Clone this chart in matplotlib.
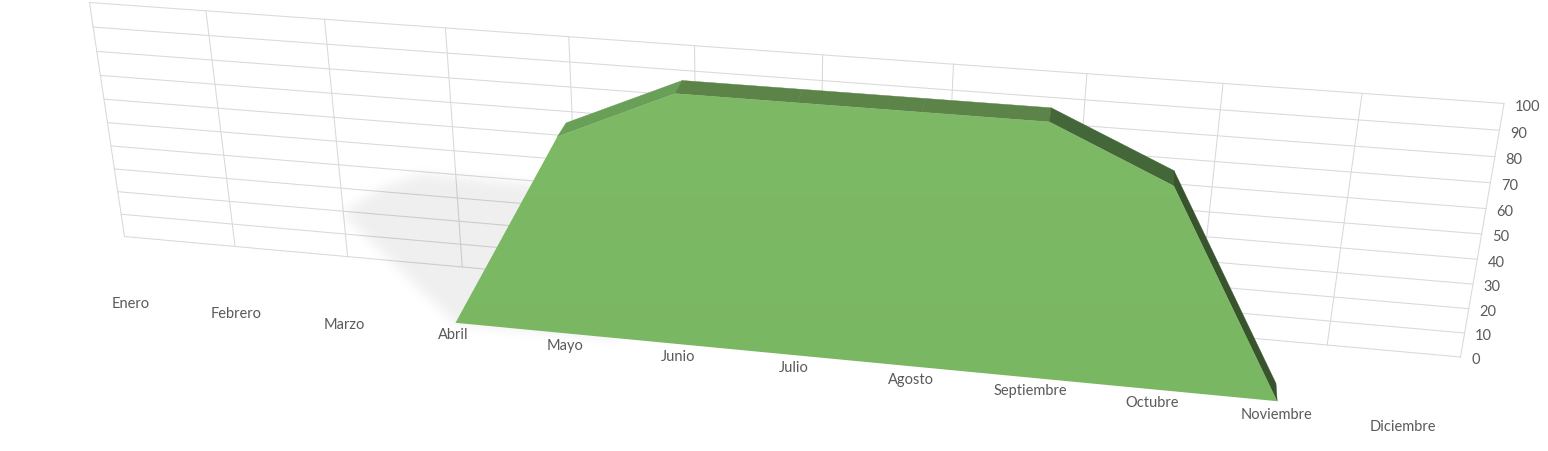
import numpy as np
import matplotlib
matplotlib.use('Agg')
from matplotlib import pyplot as plt
from matplotlib.path import Path
from matplotlib.patches import PathPatch
from matplotlib.transforms import Transform

# data
months = ['Enero', 'Febrero', 'Marzo', 'Abril', 'Mayo', 'Junio', 'Julio',
          'Agosto', 'Septiembre', 'Octubre', 'Noviembre', 'Diciembre']
values = [None, None, None, 0, 80, 100, 100, 100, 100, 80, 0, None]
y_ticks = [0, 10, 20, 30, 40, 50, 60, 70, 80, 90, 100]

# where the planes land on the canvas: (month index, value) -> pixel
WALL_CAL = [((0, 100), (89, 3)), ((0, 0), (124, 237)),
            ((11, 100), (1503.5, 104)), ((11, 0), (1460, 357.5))]
FRONT_CAL = [((3, 0), (455, 323.3)), ((10, 0), (1276.7, 401.7)),
             ((5, 100), (674.5, 94)), ((8, 100), (1049, 122.3))]
BACK_CAL = [((3, 0), (463, 306)), ((10, 0), (1275.5, 384)),
            ((5, 100), (681.7, 81)), ((8, 100), (1050.7, 108.3))]
# baselines of the month labels
LABEL_CAL = [((0, 0), (130.5, 309)), ((1, 0), (236.5, 319)), ((2, 0), (344, 329)),
             ((3, 0), (453, 339)), ((4, 0), (564, 350)), ((5, 0), (677, 361)),
             ((6, 0), (793, 372)), ((7, 0), (910, 383)), ((8, 0), (1030, 394)),
             ((9, 0), (1152, 406)), ((10, 0), (1277, 417.5)), ((11, 0), (1403, 430)),
             ((0, 100), (95, 60)), ((11, 100), (1440, 170))]

SHADOW = [(340, 214), (380, 188), (420, 174), (530, 185), (620, 200),
          (620, 340), (455, 325)]

GRID = '#d9d9d9'
TEXT = '#5a5a5a'
FACE_COLORS = {4: '#6a9f57', 5: '#5c8348', 6: '#5c8348', 7: '#5c8348',
               8: '#446739', 9: '#38542d'}


class Homography(Transform):
    input_dims = 2
    output_dims = 2

    def __init__(self, cal):
        super().__init__()
        # least squares DLT with h33 = 1
        a, b = [], []
        for (u, v), (x, y) in cal:
            a.append([u, v, 1, 0, 0, 0, -u * x, -v * x])
            a.append([0, 0, 0, u, v, 1, -u * y, -v * y])
            b += [x, y]
        h = np.linalg.lstsq(np.array(a, float), np.array(b, float), rcond=None)[0]
        self.h = np.append(h, 1).reshape(3, 3)

    def transform_non_affine(self, xy):
        xy = np.asarray(xy, float)
        p = np.column_stack([xy, np.ones(len(xy))]) @ self.h.T
        return p[:, :2] / p[:, 2:]


def set_canvas(ax):
    # pixel index -> pixel centre
    ax.set_xlim(-0.5, 1547.5)
    ax.set_ylim(451.5, -0.5)


fig = plt.figure(figsize=(15.48, 4.52), dpi=100)
ax = fig.add_axes([0, 0, 1, 1])
set_canvas(ax)
ax.axis('off')

wall = Homography(WALL_CAL)
front = Homography(FRONT_CAL)
back = Homography(BACK_CAL)
label_tf = Homography(LABEL_CAL)

# back wall grid
for i in range(len(months)):
    ax.plot([i, i], [0, 100], color=GRID, lw=0.75, transform=wall + ax.transData, zorder=1)
for t in y_ticks:
    ax.plot([0, 11], [t, t], color=GRID, lw=0.75, transform=wall + ax.transData, zorder=1)
    x, y = wall.transform([[11, t]])[0]
    ax.text(x + 10.5, y + 6.3, str(t), ha='left', va='baseline', color=TEXT,
            family='Lato', fontsize=10.5, zorder=5)

# soft shadow behind the area
yy, xx = np.mgrid[150:350, 310:640]
mask = Path(SHADOW).contains_points(np.column_stack([xx.ravel(), yy.ravel()])).reshape(xx.shape)
kernel = np.exp(-np.arange(-18, 19) ** 2 / (2 * 6.0 ** 2))
kernel /= kernel.sum()
soft = np.apply_along_axis(lambda r: np.convolve(r, kernel, mode='same'), 0, mask.astype(float))
soft = np.apply_along_axis(lambda r: np.convolve(r, kernel, mode='same'), 1, soft)
rgba = np.zeros(soft.shape + (4,))
rgba[..., 3] = soft * 0.065
ax.imshow(rgba, extent=(310, 640, 350, 150), zorder=2, aspect='auto')
set_canvas(ax)

# area: top faces first, then the front
idx = [i for i, v in enumerate(values) if v is not None]
pts = np.array([[i, values[i]] for i in idx], float)
p_front = front.transform(pts)
p_back = back.transform(pts)
for k in range(len(idx) - 1):
    col = FACE_COLORS.get(idx[k])
    if col is None:
        continue
    quad = np.array([p_back[k], p_back[k + 1], p_front[k + 1], p_front[k]])
    ax.fill(quad[:, 0], quad[:, 1], color=col, lw=0.3, zorder=3)

patch = PathPatch(Path(np.vstack([p_front, p_front[:1]]), closed=True), fc='none', ec='none')
ax.add_patch(patch)
grad = np.linspace(0, 1, 64)[:, None, None]
img = (1 - grad) * np.array([126, 186, 102]) / 255 + grad * np.array([122, 183, 98]) / 255
im = ax.imshow(img, extent=(440, 1290, 410, 85), zorder=4, aspect='auto')
im.set_clip_path(patch)
set_canvas(ax)

# category labels
for i, name in enumerate(months):
    ax.text(i, 0, name, ha='center', va='baseline', color=TEXT, family='Lato',
            fontsize=10.5, transform=label_tf + ax.transData, zorder=5)

plt.savefig('out.png', dpi=100)
